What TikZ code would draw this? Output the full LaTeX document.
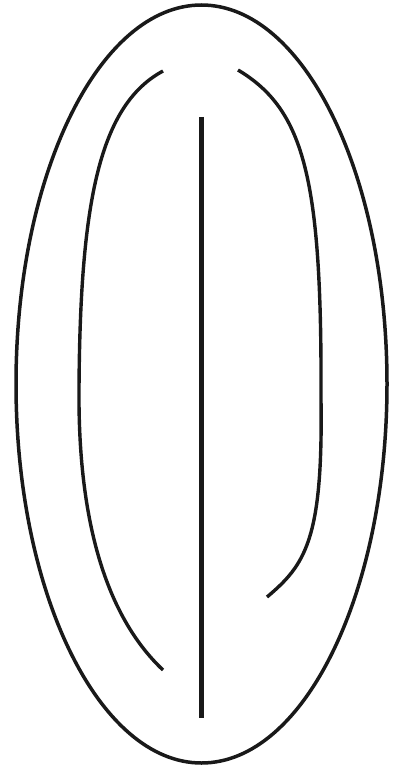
\documentclass[tikz,border=0pt]{standalone}
\begin{document}
\begin{tikzpicture}[x=1pt,y=-1pt,
  outline/.style={line width=3.5pt,color=black!90},
  inner/.style={line width=3.4pt,color=black!90},
  axisline/.style={line width=5pt,color=black!90}]
\useasboundingbox (0,0) rectangle (397,770);
% outer ellipse
\draw[outline] (201.5,384) ellipse [x radius=185.5, y radius=379];
% left inner arc
\draw[inner] (163,71) .. controls (100,105) and (80,200) .. (79,390)
  .. controls (78,530) and (110,620) .. (163,670);
% right inner arc
\draw[inner] (238,70) .. controls (305,110) and (322,180) .. (321,400)
  .. controls (323,540) and (305,565) .. (267,597);
% central line
\draw[axisline] (201.5,117) -- (201.5,718);
\end{tikzpicture}
\end{document}
